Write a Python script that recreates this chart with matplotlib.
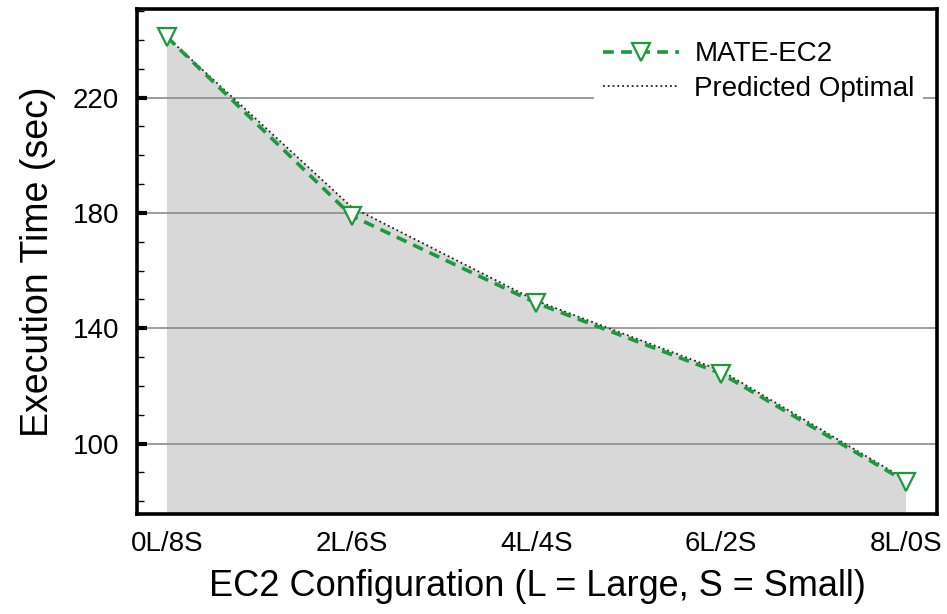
import matplotlib
matplotlib.use("Agg")
import matplotlib.pyplot as plt
from matplotlib.ticker import MultipleLocator

# data
configs = ["0L/8S", "2L/6S", "4L/4S", "6L/2S", "8L/0S"]
mate_ec2 = [241, 179, 148.7, 124.3, 86.8]
predicted = [241, 182, 149.5, 125.3, 87.5]

plt.rcParams['font.family'] = ['Liberation Sans', 'DejaVu Sans']

fig = plt.figure(figsize=(9.47, 6.14), dpi=100)
ax = fig.add_axes([0.1447, 0.1629, 0.8447, 0.8224])

x = list(range(len(configs)))
green = '#1a9a3c'

# shaded area under the predicted optimal curve
ax.fill_between(x, predicted, 0, color='#d9d8d8', linewidth=0, zorder=0)

ax.plot(x, predicted, linestyle=':', color='#222222', linewidth=1.3,
        label='Predicted Optimal', zorder=2)
ax.plot(x, mate_ec2, linestyle='--', dashes=(3, 2), color=green, linewidth=2.6,
        marker='v', markersize=13, markerfacecolor='white',
        markeredgecolor=green, markeredgewidth=1.6, label='MATE-EC2', zorder=3)

ax.set_xlim(-0.162, 4.168)
ax.set_ylim(75.6, 250.7)
ax.set_xticks(x)
ax.set_xticklabels(configs, fontsize=20)
ax.yaxis.set_major_locator(MultipleLocator(40))
ax.yaxis.set_minor_locator(MultipleLocator(10))
ax.set_yticks([100, 140, 180, 220])
ax.tick_params(axis='y', labelsize=20)

ax.tick_params(axis='y', which='major', direction='in', length=7, width=3, pad=13)
ax.tick_params(axis='y', which='minor', direction='in', length=5, width=1)
ax.tick_params(axis='x', which='major', length=0, pad=12)

ax.set_axisbelow(True)
ax.yaxis.grid(True, which='major', color='#8c8c8c', linewidth=1.2)

for s in ax.spines.values():
    s.set_linewidth(2.6)

ax.set_xlabel('EC2 Configuration (L = Large, S = Small)', fontsize=26, labelpad=9)
ax.set_ylabel('Execution Time (sec)', fontsize=27, labelpad=12)

handles, labels = ax.get_legend_handles_labels()
leg = ax.legend(handles[::-1], labels[::-1], loc='upper right', fontsize=20,
                frameon=True, fancybox=False, edgecolor='none', framealpha=1,
                handlelength=2.75, handletextpad=0.55, borderpad=0.3,
                labelspacing=0.3, bbox_to_anchor=(1.0, 0.98))

fig.savefig('out.png', dpi=100)
